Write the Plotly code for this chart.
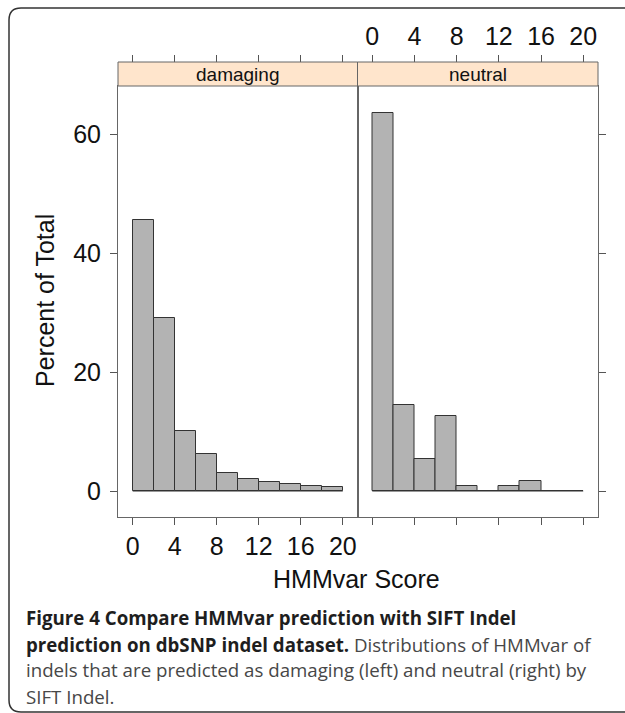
import plotly.graph_objects as go

# ---------------- data ----------------
bin_edges = [0, 2, 4, 6, 8, 10, 12, 14, 16, 18, 20]
damaging_pct = [45.5, 29.1, 10.1, 6.3, 3.0, 2.0, 1.5, 1.1, 0.8, 0.65]
neutral_pct = [63.6, 14.4, 5.4, 12.6, 0.85, 0.0, 0.85, 1.7, 0.0, 0.0]
panel_names = ["damaging", "neutral"]
x_ticks = [0, 4, 8, 12, 16, 20]
y_ticks = [0, 20, 40, 60]
x_title = "HMMvar Score"
y_title = "Percent of Total"
BOLD = "<span style='color:#1e1e1e'><b>{}</b></span>"
caption_lines = [
    BOLD.format("Figure 4 Compare HMMvar prediction with SIFT Indel"),
    BOLD.format("prediction on dbSNP indel dataset.") + " Distributions of HMMvar of",
    "indels that are predicted as damaging (left) and neutral (right) by",
    "SIFT Indel.",
]

# ---------------- geometry helpers ----------------
W, H = 625, 713
def px(x):
    return x / W
def py(y):
    return 1 - y / H

L, M, R = 118, 357.5, 598
T, B, ST = 86, 517, 62
XR = [-1.4, 21.4]
YR = [-4.37, 68.07]

centers = [(a + b) / 2 for a, b in zip(bin_edges[:-1], bin_edges[1:])]
widths = [b - a for a, b in zip(bin_edges[:-1], bin_edges[1:])]

BAR_FILL = "#B3B3B3"
BAR_LINE = "#333333"
FRAME = "#666666"
TICKC = "#555555"
TFONT = dict(family="Liberation Sans, Arial, sans-serif", size=25, color="#111111")

fig = go.Figure()
for vals, xa, ya in [(damaging_pct, "x", "y"), (neutral_pct, "x2", "y2")]:
    fig.add_trace(go.Scatter(x=[bin_edges[0], bin_edges[-1]], y=[0, 0], mode="lines",
                             line=dict(color=BAR_LINE, width=1), xaxis=xa, yaxis=ya,
                             showlegend=False, hoverinfo="skip"))
    fig.add_trace(go.Bar(x=centers, y=vals, width=widths, xaxis=xa, yaxis=ya,
                         marker=dict(color=BAR_FILL, line=dict(color=BAR_LINE, width=1)),
                         showlegend=False))
# helper traces for top tick axes
fig.add_trace(go.Scatter(x=[None], y=[None], xaxis="x3", yaxis="y", showlegend=False, hoverinfo="skip"))
fig.add_trace(go.Scatter(x=[None], y=[None], xaxis="x4", yaxis="y2", showlegend=False, hoverinfo="skip"))

common_x = dict(range=XR, tickvals=x_ticks, ticktext=[str(v) for v in x_ticks],
                ticks="outside", ticklen=7, tickcolor=TICKC, tickwidth=1,
                showgrid=False, zeroline=False, tickfont=TFONT, fixedrange=True)
common_y = dict(range=YR, tickvals=y_ticks, ticktext=[str(v) for v in y_ticks],
                ticks="outside", ticklen=7, tickcolor=TICKC, tickwidth=1,
                showgrid=False, zeroline=False, tickfont=TFONT,
                domain=[py(B), py(T)], fixedrange=True)

fig.update_layout(
    width=W, height=H, margin=dict(l=0, r=0, t=0, b=0),
    paper_bgcolor="white", plot_bgcolor="white", bargap=0, showlegend=False,
    xaxis=dict(domain=[px(L), px(M)], anchor="y", side="bottom",
               showline=True, mirror=True, linecolor=FRAME, linewidth=1, **common_x),
    xaxis2=dict(domain=[px(M), px(R)], anchor="y2", side="bottom", showticklabels=False,
                showline=True, mirror=True, linecolor=FRAME, linewidth=1, **common_x),
    xaxis3=dict(overlaying="x", anchor="free", position=py(ST), side="top",
                showticklabels=False, showline=False, **common_x),
    xaxis4=dict(overlaying="x2", anchor="free", position=py(ST), side="top",
                showticklabels=True, showline=False, **common_x),
    yaxis=dict(anchor="x", side="left", showline=True, mirror=True, linecolor=FRAME,
               linewidth=1, ticklabelstandoff=4, **common_y),
    yaxis2=dict(anchor="x2", side="right", showticklabels=False, showline=True, mirror=True,
                linecolor=FRAME, linewidth=1, **common_y),
)

shapes = []
# strips
for x0, x1 in [(L, M), (M, R)]:
    shapes.append(dict(type="rect", xref="paper", yref="paper", x0=px(x0), x1=px(x1),
                       y0=py(T), y1=py(ST), fillcolor="#FFE5CC",
                       line=dict(color=FRAME, width=1), layer="above"))
# outer rounded frame
r = 12
bl, bt, br, bb = 9, 8, 650, 712
path = (f"M {px(bl)},{py(bb - r)} L {px(bl)},{py(bt + r)} Q {px(bl)},{py(bt)} {px(bl + r)},{py(bt)} "
        f"L {px(br)},{py(bt)} L {px(br)},{py(bb)} L {px(bl + r)},{py(bb)} "
        f"Q {px(bl)},{py(bb)} {px(bl)},{py(bb - r)} Z")
shapes.append(dict(type="path", xref="paper", yref="paper", path=path,
                   line=dict(color="#333333", width=1.5), fillcolor="rgba(0,0,0,0)"))
fig.update_layout(shapes=shapes)

ann = []
for name, x0, x1 in [(panel_names[0], L, M), (panel_names[1], M, R)]:
    ann.append(dict(text=name, x=px((x0 + x1) / 2), y=py((T + ST) / 2), xref="paper", yref="paper",
                    showarrow=False, xanchor="center", yanchor="middle",
                    font=dict(family="Liberation Sans, Arial, sans-serif", size=19, color="#111111")))
ann.append(dict(text=x_title, x=px(356), y=py(579), xref="paper", yref="paper", showarrow=False,
                xanchor="center", yanchor="middle", font=TFONT))
ann.append(dict(text=y_title, x=px(45), y=py(301), xref="paper", yref="paper", showarrow=False,
                xanchor="center", yanchor="middle", textangle=-90, font=TFONT))
baselines = [623, 650, 675, 702]
for line, bl_y in zip(caption_lines, baselines):
    ann.append(dict(text=line, x=px(24), y=py(bl_y - 6), xref="paper", yref="paper",
                    showarrow=False, xanchor="left", yanchor="middle",
                    font=dict(family="Open Sans, sans-serif", size=18.7, color="#474747")))
fig.update_layout(annotations=ann)

fig.write_html("out.html")
